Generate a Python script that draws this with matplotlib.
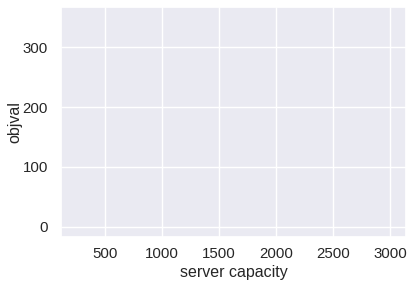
import matplotlib
matplotlib.use("Agg")
import matplotlib.pyplot as plt
import seaborn as sns

# the reference shows an empty axes: only the ranges are known
capacity_range = [250, 3000]
objval_range = [0, 350]
x_ticks = [500, 1000, 1500, 2000, 2500, 3000]
y_ticks = [0, 100, 200, 300]

sns.set_theme(style="darkgrid")
plt.rcParams['font.family'] = ['Liberation Sans', 'DejaVu Sans']

fig = plt.figure(figsize=(4.15, 2.87), dpi=100)
ax = fig.add_axes([61 / 415, 1 - 237 / 287, 345 / 415, 230 / 287])

# same 5% padding matplotlib would add around data
xpad = 0.05 * (capacity_range[1] - capacity_range[0])
ypad = 0.05 * (objval_range[1] - objval_range[0])
ax.set_xlim(capacity_range[0] - xpad, capacity_range[1] + xpad)
ax.set_ylim(objval_range[0] - ypad, objval_range[1] + ypad)

ax.set_xticks(x_ticks)
ax.set_yticks(y_ticks)
ax.tick_params(labelsize=10.8, colors="#262626")
ax.tick_params(axis="x", pad=1.5)
ax.set_xlabel("server capacity", fontsize=11.5, color="#262626", labelpad=2.5)
ax.set_ylabel("objval", fontsize=11.5, color="#262626", labelpad=0)

fig.savefig("out.png", dpi=100)
